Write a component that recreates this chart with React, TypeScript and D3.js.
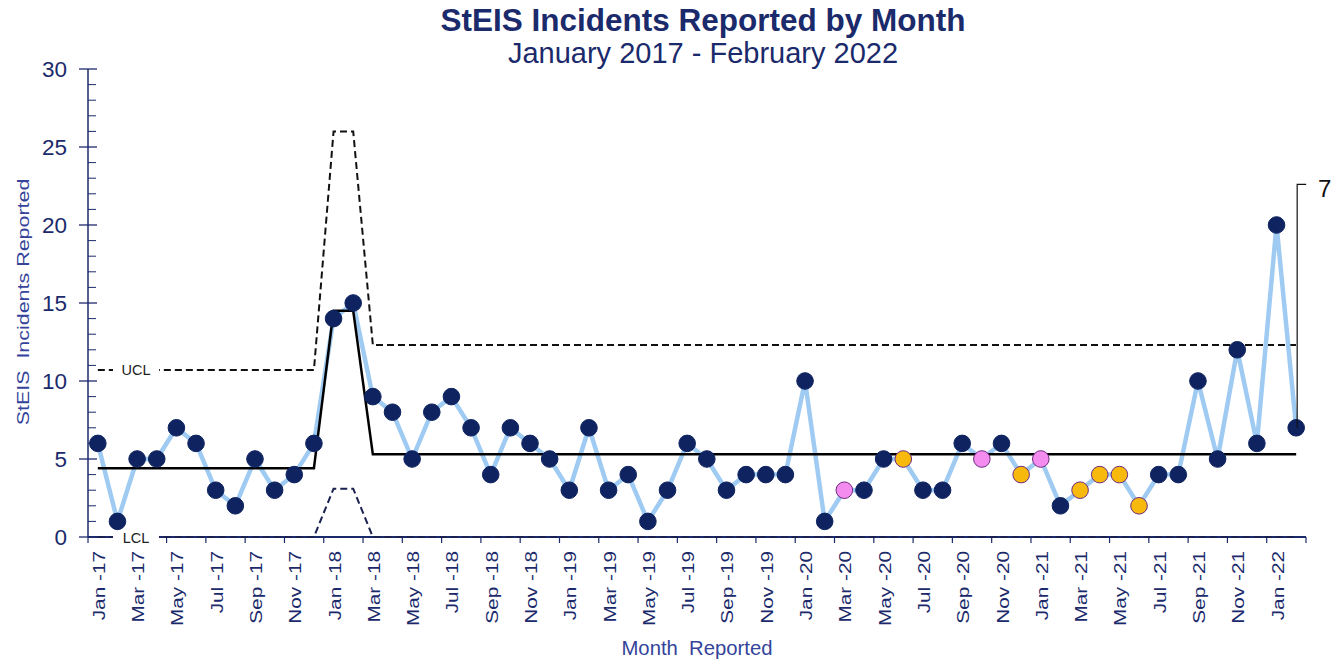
import React from "react";
import * as d3 from "d3";

const months = [
  "Jan -17","Feb -17","Mar -17","Apr -17","May -17","Jun -17","Jul -17","Aug -17","Sep -17","Oct -17","Nov -17","Dec -17",
  "Jan -18","Feb -18","Mar -18","Apr -18","May -18","Jun -18","Jul -18","Aug -18","Sep -18","Oct -18","Nov -18","Dec -18",
  "Jan -19","Feb -19","Mar -19","Apr -19","May -19","Jun -19","Jul -19","Aug -19","Sep -19","Oct -19","Nov -19","Dec -19",
  "Jan -20","Feb -20","Mar -20","Apr -20","May -20","Jun -20","Jul -20","Aug -20","Sep -20","Oct -20","Nov -20","Dec -20",
  "Jan -21","Feb -21","Mar -21","Apr -21","May -21","Jun -21","Jul -21","Aug -21","Sep -21","Oct -21","Nov -21","Dec -21",
  "Jan -22","Feb -22",
];

const incidents = [
  6, 1, 5, 5, 7, 6, 3, 2, 5, 3, 4, 6,
  14, 15, 9, 8, 5, 8, 9, 7, 4, 7, 6, 5,
  3, 7, 3, 4, 1, 3, 6, 5, 3, 4, 4, 4,
  10, 1, 3, 3, 5, 5, 3, 3, 6, 5, 6, 4,
  5, 2, 3, 4, 4, 2, 4, 4, 10, 5, 12, 6,
  20, 7,
];

const pinkMonths = ["Mar -20", "Oct -20", "Jan -21"];
const orangeMonths = ["Jun -20", "Dec -20", "Mar -21", "Apr -21", "May -21", "Jun -21"];

const periodStart = ["Jan -17", "Jan -18", "Mar -18"];
const periodEnd = ["Dec -17", "Feb -18", "Feb -22"];
const meanValues = [4.4, 14.5, 5.3];
const uclValues = [10.7, 26.0, 12.3];
const lclValues = [0, 3.1, 0];

const yTicks = [0, 5, 10, 15, 20, 25, 30];
const annotationText = "7";
const annotationLevel = 22.6;

const W = 1337;
const H = 660;
const NAVY = "#1b2a6b";
const FONT = "'Liberation Sans', Arial, Helvetica, sans-serif";

function periodSeries(values: number[]) {
  return months.map((m, i) => {
    for (let p = 0; p < periodStart.length; p++) {
      const s = months.indexOf(periodStart[p]);
      const e = months.indexOf(periodEnd[p]);
      if (i >= s && i <= e) return { m, v: values[p] };
    }
    return { m, v: NaN };
  });
}

export default function App() {
  const x = d3.scaleBand<string>().domain(months).range([88, 1306]).paddingInner(0).paddingOuter(0);
  const y = d3.scaleLinear().domain([0, 30]).range([537, 69]);
  const bw = x.bandwidth();
  const cx = (m: string) => (x(m) as number) + bw / 2;

  const pts = months.map((m, i) => ({ m, v: incidents[i] }));
  const line = d3.line<{ m: string; v: number }>().x((d) => cx(d.m)).y((d) => y(d.v));

  const meanS = periodSeries(meanValues);
  const uclS = periodSeries(uclValues);
  const lclS = periodSeries(lclValues);

  const minorTicks = d3.range(0, 31, 1).filter((v) => v % 5 !== 0);
  const xTickBoundaries = d3.range(0, months.length + 1, 2).map((i) =>
    i < months.length ? (x(months[i]) as number) : (x(months[months.length - 1]) as number) + bw
  );

  const lastM = months[months.length - 1];
  const lastX = cx(lastM);
  const lastY = y(incidents[incidents.length - 1]);

  const colorFor = (m: string) =>
    pinkMonths.includes(m) ? { fill: "#f48bef", stroke: "#6e2a80" }
    : orangeMonths.includes(m) ? { fill: "#f6b90c", stroke: "#6e2a80" }
    : { fill: "#0e2360", stroke: "#0e2360" };

  return (
    <svg width={W} height={H} style={{ position: "absolute", left: 0, top: 0, background: "#fff" }} fontFamily={FONT}>
      <rect width={W} height={H} fill="#fff" />
      {/* titles */}
      <text x={703} y={31} textAnchor="middle" fontSize={31.5} fontWeight="bold" fill={NAVY}>
        StEIS Incidents Reported by Month
      </text>
      <text x={703} y={63} textAnchor="middle" fontSize={29} fill={NAVY}>
        January 2017 - February 2022
      </text>

      {/* y axis */}
      <line x1={88} x2={88} y1={y(0)} y2={y(30)} stroke={NAVY} strokeWidth={1.5} />
      {yTicks.map((t) => (
        <g key={"yt" + t}>
          <line x1={79} x2={97} y1={y(t)} y2={y(t)} stroke={NAVY} strokeWidth={1.3} />
          <text x={67} y={y(t)} dy="0.36em" textAnchor="end" fontSize={22.5} fill={NAVY}>
            {t}
          </text>
        </g>
      ))}
      {minorTicks.map((t) => (
        <line key={"mt" + t} x1={88} x2={96} y1={y(t)} y2={y(t)} stroke={NAVY} strokeWidth={1} />
      ))}
      <text transform={`translate(29,302) rotate(-90) scale(1.3,1)`} textAnchor="middle" fontSize={16.5} fill="#34449a" style={{ whiteSpace: "pre" }}>
        {"StEIS  Incidents Reported"}
      </text>

      {/* x axis */}
      <line x1={88} x2={1306} y1={y(0)} y2={y(0)} stroke={NAVY} strokeWidth={2} />
      {xTickBoundaries.map((bx, i) => (
        <line key={"xt" + i} x1={bx} x2={bx} y1={y(0)} y2={y(0) + 6} stroke={NAVY} strokeWidth={1.2} />
      ))}
      {months.map((m, i) =>
        i % 2 === 0 ? (
          <text key={"xl" + m} transform={`translate(${cx(m) + 7},${y(0) + 14}) rotate(-90) scale(1.26,1)`} textAnchor="end" fontSize={16.5} fill={NAVY} style={{ whiteSpace: "pre" }}>
            {m}
          </text>
        ) : null
      )}
      <text x={697} y={655} textAnchor="middle" fontSize={20.3} fill="#34449a" style={{ whiteSpace: "pre" }}>
        {"Month  Reported"}
      </text>

      {/* control limits */}
      <path d={line(uclS) || ""} fill="none" stroke="#111" strokeWidth={2} strokeDasharray="7,4" />
      <path d={line(lclS) || ""} fill="none" stroke="#1a2050" strokeWidth={2} strokeDasharray="7,4" />
      <rect x={113} y={y(uclValues[0]) - 9} width={46} height={18} fill="#fff" />
      <text x={136} y={y(uclValues[0])} dy="0.36em" textAnchor="middle" fontSize={14.5} fill="#222">UCL</text>
      <rect x={113} y={y(0) - 8} width={46} height={14} fill="#fff" />
      <text x={136} y={y(0)} dy="0.4em" textAnchor="middle" fontSize={14.5} fill="#222">LCL</text>

      {/* data line */}
      <path d={line(pts) || ""} fill="none" stroke="#9fcbf3" strokeWidth={4.5} strokeLinejoin="round" />
      {/* mean */}
      <path d={line(meanS) || ""} fill="none" stroke="#000" strokeWidth={2.5} />

      {/* points */}
      {pts.map((d) => {
        const c = colorFor(d.m);
        return <circle key={"p" + d.m} cx={cx(d.m)} cy={y(d.v)} r={8.3} fill={c.fill} stroke={c.stroke} strokeWidth={1} />;
      })}

      {/* annotation */}
      <path d={`M${lastX + 1},${lastY} L${lastX + 1},${y(annotationLevel)} L${lastX + 10},${y(annotationLevel)}`} fill="none" stroke="#111" strokeWidth={1.2} />
      <text x={1318} y={197} fontSize={24} fill="#111">{annotationText}</text>
    </svg>
  );
}
